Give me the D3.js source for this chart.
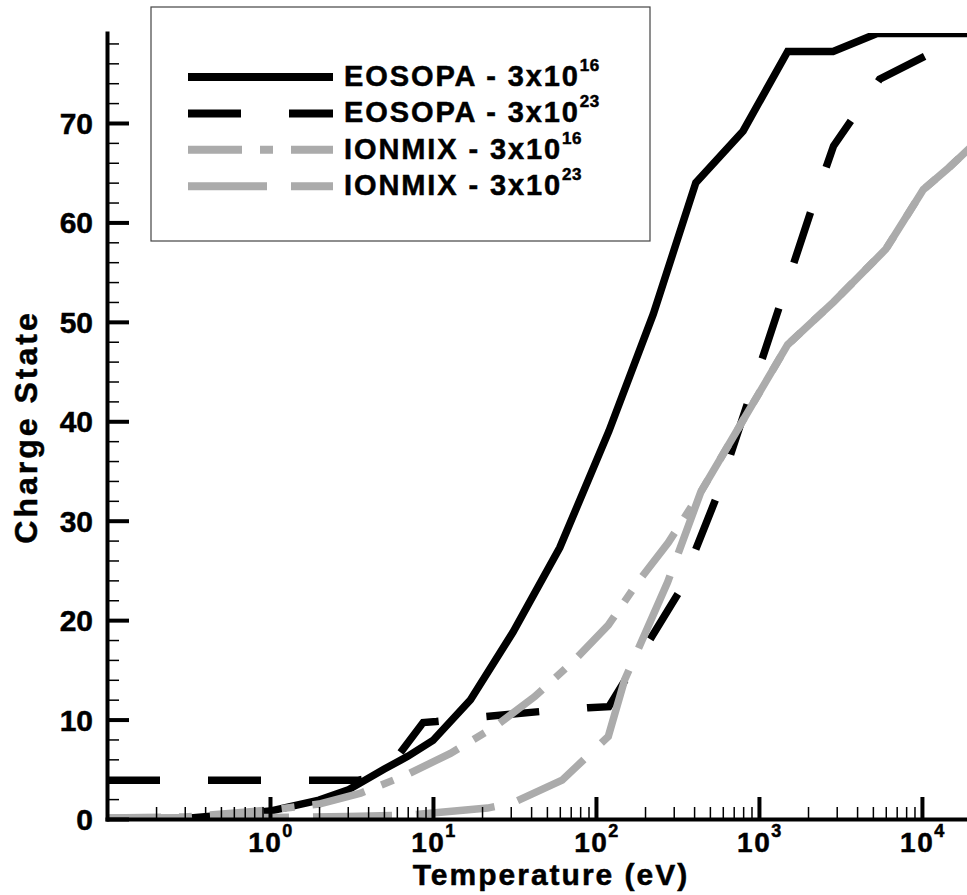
<!DOCTYPE html>
<html>
<head>
<meta charset="utf-8">
<script src="https://cdn.jsdelivr.net/npm/d3@7"></script>
<style>
body { margin: 0; background: #fff; }
text { font-family: "Liberation Sans", Arial, sans-serif; font-weight: bold; fill: #000; stroke: #000; stroke-width: 0.5; }
</style>
</head>
<body>
<svg id="chart" width="967" height="895"></svg>
<script>
// ---- data (temperature in eV, mean charge state)
const eos16T = [0.3, 1, 2, 3, 5, 7, 10, 17, 31, 60, 120, 225, 410, 800, 1500, 2850, 5300, 20000];
const eos16Z = [0.05, 0.8, 1.9, 2.9, 5.0, 6.3, 7.9, 12.0, 18.8, 27.3, 39.0, 50.8, 64.0, 69.2, 77.2, 77.2, 79.0, 79.0];

const eos23T = [0.1, 3.5, 4, 6, 8.7, 10.5, 21, 45, 90, 120, 320, 550, 2130, 2870, 5500, 11600, 20000];
const eos23Z = [3.9, 3.9, 4.1, 6.2, 9.7, 9.8, 10.3, 10.8, 11.2, 11.3, 22.7, 32.4, 61.6, 67.7, 74.4, 77.1, 78.0];

const ion16T = [0.1, 0.3, 1, 2, 3.6, 6.8, 12.8, 24, 42, 72, 119, 182, 278, 440, 1500, 2870, 6000, 10200, 14400, 20000];
const ion16Z = [0.1, 0.2, 0.9, 1.5, 2.6, 4.4, 6.6, 9.3, 12.3, 15.8, 19.5, 23.9, 27.8, 32.9, 47.7, 52.0, 57.3, 63.3, 65.4, 67.6];

const ion23T = [0.1, 1, 3, 7.3, 21.6, 30.6, 62, 119, 150, 275, 440, 1500, 2870, 6000, 10200, 14400, 20000];
const ion23Z = [0.1, 0.15, 0.25, 0.4, 1.1, 1.6, 3.9, 8.3, 14.0, 23.8, 32.9, 47.7, 52.0, 57.3, 63.3, 65.4, 67.6];

const legendNames = ["EOSOPA - 3x10", "EOSOPA - 3x10", "IONMIX - 3x10", "IONMIX - 3x10"];
const legendExp = ["16", "23", "16", "23"];

const yMajor = [0, 10, 20, 30, 40, 50, 60, 70];
const xMajor = [1, 10, 100, 1000, 10000];
const xExp = ["0", "1", "2", "3", "4"];

const gray = "#ababab";
const series = [
    { t: eos16T, z: eos16Z, color: "#000", dash: null },
    { t: eos23T, z: eos23Z, color: "#000", dash: "53,48" },
    { t: ion16T, z: ion16Z, color: gray, dash: "54,18,13,18" },
    { t: ion23T, z: ion23Z, color: gray, dash: "79,24" }
];

var margin = { top: 33, left: 107 };
const plot_width = 864, plot_height = 786;

var svg = d3.select("#chart");
var plot = svg.append("g")
    .attr("transform", `translate(${margin.left},${margin.top})`);

var x = d3.scaleLog().domain([0.1, 20000]).range([0, plot_width]);
var y = d3.scaleLinear().domain([0, 79.05]).range([plot_height, 0]);

svg.append("defs").append("clipPath").attr("id", "clip")
    .append("rect").attr("width", plot_width).attr("height", plot_height);

// minor tick positions
var xMinor = [];
for (let e = -1; e <= 4; e++) {
    for (let k = 2; k <= 9; k++) {
        let v = k * Math.pow(10, e);
        if (v <= 20000) xMinor.push(v);
    }
}
var yMinor = d3.range(2, 80, 2).filter(function (d) { return d % 10 != 0 });

// curves
var line = d3.line()
    .x(function (d) { return x(d[0]); })
    .y(function (d) { return y(d[1]); });

var curves = plot.append("g").attr("clip-path", "url(#clip)");
series.forEach(function (s) {
    curves.append("path")
        .datum(d3.zip(s.t, s.z))
        .attr("d", line)
        .attr("fill", "none")
        .attr("stroke", s.color)
        .attr("stroke-width", 7.5)
        .attr("stroke-linejoin", "miter")
        .attr("stroke-miterlimit", 2)
        .attr("stroke-dasharray", s.dash);
});

// axes
plot.append("g")
    .call(d3.axisLeft(y).tickValues(yMinor).tickSize(-12).tickFormat(""))
    .call(g => g.select(".domain").remove())
    .selectAll("line").attr("stroke-width", 1.5);

var yAxis = plot.append("g")
    .call(d3.axisLeft(y).tickValues(yMajor).tickSize(-22).tickSizeOuter(0).tickPadding(14));
yAxis.selectAll("line").attr("stroke-width", 4);
yAxis.select(".domain").attr("stroke-width", 4).attr("stroke-linecap", "square");
yAxis.selectAll("text")
    .attr("font-size", 30)
    .attr("font-family", null)
    .attr("dy", "0.35em");

plot.append("g")
    .attr("transform", `translate(0,${plot_height})`)
    .call(d3.axisBottom(x).tickValues(xMinor).tickSize(-12).tickFormat(""))
    .call(g => g.select(".domain").remove())
    .selectAll("line").attr("stroke-width", 1.5);

var xAxis = plot.append("g")
    .attr("transform", `translate(0,${plot_height})`)
    .call(d3.axisBottom(x).tickValues(xMajor).tickSize(-22).tickSizeOuter(0).tickFormat(""));
xAxis.selectAll("line").attr("stroke-width", 4);
xAxis.select(".domain").attr("stroke-width", 4).attr("stroke-linecap", "square");

var xLab = plot.append("g").selectAll("text")
    .data(xMajor)
    .enter().append("text")
    .attr("x", function (d) { return x(d) + 1; })
    .attr("y", plot_height + 33)
    .attr("text-anchor", "middle")
    .attr("font-size", 28)
    .attr("letter-spacing", 1.5);
xLab.append("tspan").text("10");
xLab.append("tspan")
    .attr("font-size", 18)
    .attr("dy", -15)
    .text(function (d, i) { return xExp[i]; });

// axis titles
svg.append("text")
    .attr("x", 551)
    .attr("y", 885)
    .attr("text-anchor", "middle")
    .attr("font-size", 30)
    .attr("letter-spacing", 2)
    .text("Temperature (eV)");

svg.append("text")
    .attr("transform", "translate(37,427) rotate(-90)")
    .attr("text-anchor", "middle")
    .attr("font-size", 32)
    .attr("letter-spacing", 3)
    .text("Charge State");

// legend
var legend = svg.append("g");
legend.append("rect")
    .attr("x", 151).attr("y", 7)
    .attr("width", 499).attr("height", 234)
    .attr("fill", "#fff")
    .attr("stroke", "#444")
    .attr("stroke-width", 1.2);

var rows = legend.selectAll(".row")
    .data(series)
    .enter().append("g")
    .attr("class", "row")
    .attr("transform", function (d, i) { return `translate(0,${77 + i * 36.4})`; });

rows.append("line")
    .attr("x1", 188).attr("x2", 333)
    .attr("stroke", function (d) { return d.color; })
    .attr("stroke-width", 8)
    .attr("stroke-dasharray", function (d) { return d.dash; });

var lt = rows.append("text")
    .attr("x", 344)
    .attr("y", 9)
    .attr("font-size", 29)
    .attr("letter-spacing", 1.9);
lt.append("tspan").text(function (d, i) { return legendNames[i]; });
lt.append("tspan")
    .attr("font-size", 17)
    .attr("dy", -15)
    .attr("letter-spacing", 0.5)
    .text(function (d, i) { return legendExp[i]; });
</script>
</body>
</html>
